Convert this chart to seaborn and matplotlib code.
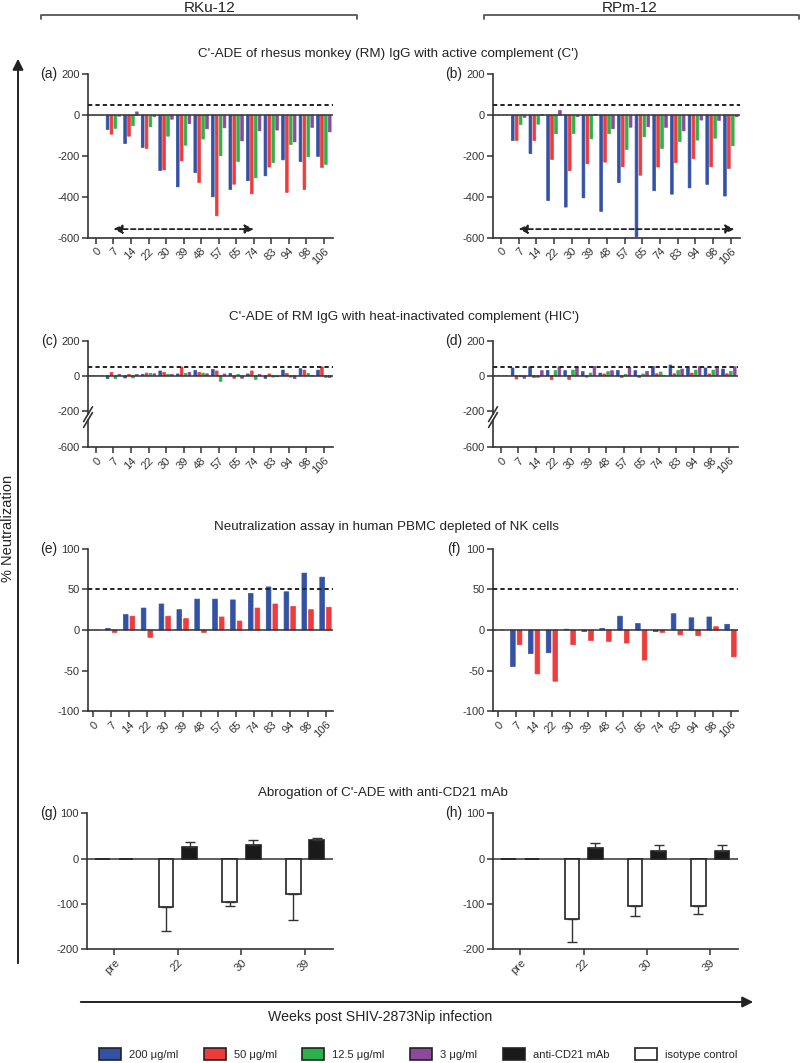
import numpy as np
import pandas as pd
import matplotlib
matplotlib.use('Agg')
import matplotlib.pyplot as plt
import seaborn as sb
from matplotlib.patches import Patch, FancyArrowPatch
from matplotlib.lines import Line2D

weeks = ['0', '7', '14', '22', '30', '39', '48', '57', '65', '74', '83', '94', '98', '106']
concs = ['200 μg/ml', '50 μg/ml', '12.5 μg/ml', '3 μg/ml']
conc_colors = ['#3352A4', '#EE3B3B', '#2DB24B', '#8C4A9E']

# (a) RKu-12, active complement
a_200 = [0, -70, -139, -158, -271, -351, -281, -400, -364, -321, -297, -219, -227, -202]
a_50 = [0, -93, -103, -163, -268, -224, -330, -493, -338, -385, -254, -378, -364, -256]
a_12 = [0, -65, -52, -57, -103, -147, -117, -199, -227, -307, -232, -144, -204, -241]
a_3 = [0, -5, 16, -8, -20, -42, -67, -62, -126, -77, -73, -131, -60, -82]

# (b) RPm-12, active complement
b_200 = [0, -124, -188, -418, -450, -405, -471, -330, -595, -370, -387, -356, -339, -396]
b_50 = [0, -124, -124, -217, -272, -238, -230, -253, -294, -254, -232, -212, -253, -261]
b_12 = [0, -46, -44, -91, -90, -116, -91, -168, -106, -163, -129, -122, -113, -150]
b_3 = [0, -11, 3, 23, -8, 3, -67, -59, -57, -60, -77, -24, -26, -8]

# (c) RKu-12, heat-inactivated complement
c_200 = [0, -17, -13, 8, 27, 10, 30, 36, 13, 10, -15, 32, 40, 32]
c_50 = [0, 19, 8, 15, 19, 50, 19, 27, -15, 27, 10, 13, 32, 50]
c_12 = [0, -17, -13, 13, 8, 13, 15, -32, 8, -21, -8, -8, 13, -11]
c_3 = [0, 8, 8, 11, 8, 19, 11, 10, -15, 8, -6, -17, -2, -11]

# (d) RPm-12, heat-inactivated complement
d_200 = [0, 44, 51, 30, 29, 23, 15, 30, 29, 53, 61, 46, 44, 38]
d_50 = [0, -19, -11, -23, -21, -8, 10, -10, -10, 11, 11, 15, 10, 11]
d_12 = [0, -6, -10, 29, 32, 15, 23, 8, 10, 21, 30, 32, 32, 25]
d_3 = [0, -15, 29, 51, 48, 53, 29, 46, 25, 0, 38, 53, 42, 51]

# (e)/(f) NK-depleted PBMC neutralization
e_200 = [0, 2, 19, 27, 32, 25, 38, 38, 37, 45, 53, 47, 70, 65]
e_50 = [0, -3, 17, -9, 17, 14, -3, 16, 11, 27, 32, 29, 25, 28]
f_200 = [0, -45, -29, -28, 1, -2, 2, 17, 8, -2, 20, 15, 16, 7]
f_50 = [0, -18, -54, -63, -18, -13, -14, -16, -37, -3, -6, -7, 4, -33]

# (g)/(h) anti-CD21 abrogation
g_times = ['pre', '22', '30', '39']
mabs = ['isotype control', 'anti-CD21 mAb']
g_iso = [0, -107, -96, -79]
g_iso_sd = [0, 54, 9, 56]
g_cd21 = [0, 26, 31, 40]
g_cd21_sd = [0, 10, 9, 6]
h_iso = [0, -134, -106, -104]
h_iso_sd = [0, 51, 21, 19]
h_cd21 = [0, 24, 17, 16]
h_cd21_sd = [0, 11, 14, 15]

sb.set_style('ticks')
plt.rcParams['font.family'] = ['Liberation Sans', 'DejaVu Sans']
plt.rcParams['axes.unicode_minus'] = False
INK = '#333333'

W, H = 800, 1063
fig = plt.figure(figsize=(8, 10.63), dpi=100)


def box(x0, x1, ytop, ybot):
    return [x0 / W, 1 - ybot / H, (x1 - x0) / W, (ybot - ytop) / H]


def long_df(cols, labels, cats):
    parts = [pd.DataFrame({'x': cats, 'value': v, 'group': lab}) for lab, v in zip(labels, cols)]
    return pd.concat(parts, ignore_index=True)


def bars(ax, df, order, hue_order, palette, width, gap, outline=True, **kw):
    sb.barplot(data=df, x='x', y='value', hue='group', order=order, hue_order=hue_order,
               palette=palette, width=width, gap=gap, errorbar=None, legend=False,
               saturation=1, ax=ax, **kw)
    if outline:
        # thin bars: give each one an edge in its own colour so none vanish
        for p in ax.patches:
            p.set_edgecolor(p.get_facecolor())
            p.set_linewidth(0.5)
            p.set_snap(False)


def style(ax, yticks, ylim, xlim, bottom=True):
    ax.set_ylim(ylim)
    ax.set_yticks(yticks)
    ax.set_xlim(xlim)
    ax.set_xlabel('')
    ax.set_ylabel('')
    ax.tick_params(axis='both', labelsize=8, length=4, width=1.1, color=INK,
                   labelcolor=INK, pad=2)
    sb.despine(ax=ax)
    for s in ['left', 'bottom']:
        ax.spines[s].set_color(INK)
        ax.spines[s].set_linewidth(1.2)
    if bottom:
        plt.setp(ax.get_xticklabels(), rotation=45, ha='right', rotation_mode='anchor')
    else:
        ax.spines['bottom'].set_visible(False)
        ax.tick_params(axis='x', bottom=False, labelbottom=False)


def refs(ax, dashed=50):
    ax.axhline(0, color=INK, lw=1.1, zorder=1)
    ax.axhline(dashed, color='#222222', lw=1.4, ls=(0, (2.2, 1.6)), zorder=3)


def span_arrow(ax, i0, i1, y):
    ax.annotate('', xy=(i1, y), xytext=(i0, y),
                arrowprops=dict(arrowstyle='<|-|>', color='#222222', lw=1.3, ls=(0, (2.5, 1.8)),
                                mutation_scale=13, shrinkA=0, shrinkB=0))


wide = dict(width=0.89, gap=0.3)

# --- row 1: active complement
for pos, cols, arr in [(box(88, 333, 74.3, 237.7), [a_200, a_50, a_12, a_3], (1, 9)),
                       (box(493, 740, 74.3, 237.7), [b_200, b_50, b_12, b_3], (1, 13.2))]:
    ax = fig.add_axes(pos)
    bars(ax, long_df(cols, concs, weeks), weeks, concs, conc_colors, **wide)
    refs(ax)
    style(ax, [200, 0, -200, -400, -600], (-600, 200), (-0.45, 13.52))
    span_arrow(ax, arr[0], arr[1], -558)

# --- row 2: heat-inactivated complement (broken axis)
for x0, x1, cols in [(88, 333, [c_200, c_50, c_12, c_3]), (493, 738, [d_200, d_50, d_12, d_3])]:
    df = long_df(cols, concs, weeks)
    top = fig.add_axes(box(x0, x1, 340.7, 414.2))
    bars(top, df, weeks, concs, conc_colors, **wide)
    refs(top)
    style(top, [200, 0, -200], (-220, 200), (-0.45, 13.52), bottom=False)
    low = fig.add_axes(box(x0, x1, 420.0, 447.3))
    bars(low, df, weeks, concs, conc_colors, **wide)
    style(low, [-600], (-600, -446), (-0.45, 13.52))
    # break marks on the y axis
    top.plot([-0.018, 0.018], [-0.1, 0.1], transform=top.transAxes, color=INK, lw=1.2, clip_on=False)
    low.plot([-0.018, 0.018], [0.73, 1.27], transform=low.transAxes, color=INK, lw=1.2, clip_on=False)

# --- row 3: NK-depleted PBMC
for x0, x1, cols in [(88, 333, [e_200, e_50]), (493, 738, [f_200, f_50])]:
    ax = fig.add_axes(box(x0, x1, 548.7, 711.3))
    bars(ax, long_df(cols, concs[:2], weeks), weeks, concs[:2], conc_colors[:2], width=0.75, gap=0.3)
    refs(ax)
    style(ax, [100, 50, 0, -50, -100], (-100, 100), (-0.3, 13.42))

# --- row 4: anti-CD21 abrogation
for x0, x1, iso, iso_sd, cd, cd_sd in [(87, 333, g_iso, g_iso_sd, g_cd21, g_cd21_sd),
                                       (493, 738, h_iso, h_iso_sd, h_cd21, h_cd21_sd)]:
    ax = fig.add_axes(box(x0, x1, 813.3, 949))
    bars(ax, long_df([iso, cd], mabs, g_times), g_times, mabs, ['white', '#1a1a1a'],
         width=0.74, gap=0.38, outline=False, edgecolor='#222222', linewidth=1.2)
    ax.axhline(0, color=INK, lw=1.1, zorder=0)
    for cont, vals, sds in zip(ax.containers, [iso, cd], [iso_sd, cd_sd]):
        for patch, v, sd in zip(cont.patches, vals, sds):
            if sd == 0:
                continue
            xc = patch.get_x() + patch.get_width() / 2
            yerr = [[sd], [0]] if v < 0 else [[0], [sd]]
            ax.errorbar(xc, v, yerr=yerr, color=INK, lw=1.0, capsize=3.5, capthick=1.0, zorder=1)
    style(ax, [100, 0, -100, -200], (-200, 100), (-0.43, 3.44))

# --- figure decorations
titles = [("C'-ADE of rhesus monkey (RM) IgG with active complement (C')", 388, 54),
          ("C'-ADE of RM IgG with heat-inactivated complement (HIC')", 404, 317),
          ("Neutralization assay in human PBMC depleted of NK cells", 386, 527),
          ("Abrogation of C'-ADE with anti-CD21 mAb", 383, 793)]
for t, x, y in titles:
    fig.text(x / W, 1 - y / H, t, ha='center', va='center', fontsize=9.6, color='#222222')

for lab, x, y in [('(a)', 49, 74), ('(b)', 454, 74), ('(c)', 49, 341), ('(d)', 454, 341),
                  ('(e)', 49, 549), ('(f)', 454, 549), ('(g)', 49, 813), ('(h)', 454, 813)]:
    fig.text(x / W, 1 - y / H, lab, ha='center', va='center', fontsize=10, color='#222222')

for name, x0, x1, xt in [('RKu-12', 41, 357, 210), ('RPm-12', 484, 799, 630)]:
    fig.add_artist(Line2D([x0 / W, x0 / W, x1 / W, x1 / W],
                          [1 - 19 / H, 1 - 15 / H, 1 - 15 / H, 1 - 19 / H],
                          color='#555555', lw=1.3))
    fig.text(xt / W, 1 - 0.5 / H, name, ha='center', va='top', fontsize=11, color='#222222')

fig.add_artist(FancyArrowPatch((18 / W, 1 - 966 / H), (18 / W, 1 - 56 / H), transform=fig.transFigure,
                               arrowstyle='-|>', mutation_scale=16, color='#222222', lw=1.4))
fig.add_artist(FancyArrowPatch((78 / W, 1 - 1002 / H), (756 / W, 1 - 1002 / H), transform=fig.transFigure,
                               arrowstyle='-|>', mutation_scale=16, color='#222222', lw=1.4))
fig.text(8 / W, 1 - 528 / H, '% Neutralization', rotation=90, ha='center', va='center',
         fontsize=10.5, color='#222222')
fig.text(380 / W, 1 - 1017 / H, 'Weeks post SHIV-2873Nip infection', ha='center', va='center',
         fontsize=10.2, color='#222222')

handles = [Patch(facecolor=c, edgecolor='#222222', lw=1.2) for c in conc_colors + ['#1a1a1a', 'white']]
labels = concs + ['anti-CD21 mAb', 'isotype control']
fig.legend(handles, labels, ncol=6, loc='center', bbox_to_anchor=(418 / W, 1 - 1054 / H),
           frameon=False, fontsize=8, handlelength=2.0, handleheight=1.35, handletextpad=0.7,
           columnspacing=2.3, borderpad=0)

fig.savefig('out.png', dpi=100)
